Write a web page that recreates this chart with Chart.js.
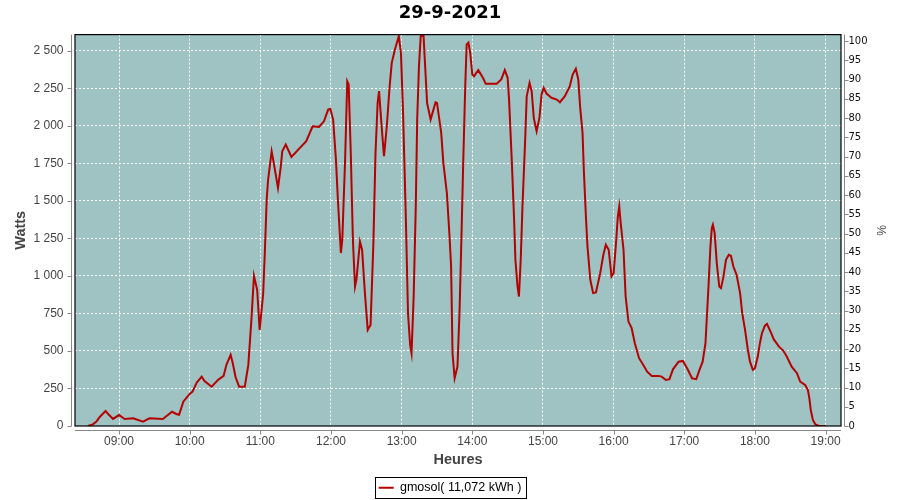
<!DOCTYPE html>
<html>
<head>
    <meta charset="utf-8">
    <title>29-9-2021</title>
    <script src="https://cdn.jsdelivr.net/npm/chart.js"></script>
    <style>
        body {
            margin: 0;
            background: #fff;
        }

        canvas {
            display: block;
        }
    </style>
</head>
<body>
    <canvas id="prodChart" width="900" height="500"></canvas>

    <script>
        const chartTitle = '29-9-2021';
        const seriesLabel = 'gmosol( 11,072 kWh )';

        // hour ticks on the x axis
        const hourTicks = [9, 10, 11, 12, 13, 14, 15, 16, 17, 18, 19];

        // time of day (decimal hours) and power (W)
        const hours = [
            8.56, 8.63, 8.68, 8.73, 8.81, 8.86, 8.915, 9.0, 9.08, 9.2, 9.27, 9.34, 9.43, 9.62,
            9.75, 9.81, 9.85, 9.91, 10.0, 10.04, 10.1, 10.17, 10.21, 10.31, 10.4, 10.48, 10.52,
            10.58, 10.61, 10.65, 10.7, 10.78, 10.83, 10.875, 10.91, 10.955, 10.99, 11.04, 11.065,
            11.09, 11.11, 11.16, 11.19, 11.25, 11.29, 11.31, 11.36, 11.44, 11.56, 11.65, 11.74,
            11.83, 11.9, 11.96, 11.99, 12.03, 12.07, 12.1, 12.14, 12.16, 12.2, 12.23, 12.25, 12.28,
            12.31, 12.34, 12.36, 12.41, 12.44, 12.48, 12.52, 12.56, 12.6, 12.63, 12.66, 12.68,
            12.72, 12.75, 12.79, 12.83, 12.86, 12.905, 12.96, 12.99, 13.02, 13.06, 13.09, 13.12,
            13.14, 13.17, 13.2, 13.22, 13.245, 13.27, 13.31, 13.33, 13.36, 13.41, 13.45, 13.48,
            13.5, 13.56, 13.59, 13.64, 13.675, 13.7, 13.72, 13.75, 13.79, 13.82, 13.85, 13.87,
            13.9, 13.92, 13.945, 13.97, 14.0, 14.025, 14.085, 14.15, 14.19, 14.345, 14.41, 14.46,
            14.5, 14.52, 14.56, 14.59, 14.61, 14.64, 14.66, 14.685, 14.71, 14.75, 14.77, 14.81,
            14.84, 14.87, 14.91, 14.95, 14.98, 15.01, 15.05, 15.12, 15.195, 15.24, 15.31, 15.38,
            15.42, 15.465, 15.5, 15.525, 15.56, 15.58, 15.61, 15.63, 15.67, 15.71, 15.75, 15.81,
            15.855, 15.89, 15.93, 15.97, 16.0, 16.03, 16.06, 16.08, 16.1, 16.14, 16.17, 16.21,
            16.255, 16.3, 16.36, 16.42, 16.475, 16.54, 16.63, 16.68, 16.74, 16.79, 16.84, 16.92,
            16.98, 17.04, 17.11, 17.17, 17.215, 17.26, 17.3, 17.32, 17.345, 17.37, 17.39, 17.405,
            17.43, 17.46, 17.495, 17.52, 17.555, 17.59, 17.63, 17.66, 17.695, 17.74, 17.79, 17.82,
            17.86, 17.9, 17.93, 17.97, 18.0, 18.04, 18.07, 18.1, 18.14, 18.17, 18.22, 18.265,
            18.34, 18.4, 18.45, 18.52, 18.595, 18.64, 18.71, 18.75, 18.77, 18.79, 18.82, 18.855,
            18.9, 19.0
        ];
        const watts = [
            0, 11, 29, 62, 100, 73, 47, 73, 47, 51, 40, 29, 51, 47,
            95, 80, 75, 162, 214, 229, 289, 329, 300, 262, 307, 334, 407,
            474, 418, 325, 262, 262, 407, 719, 1001, 908, 641, 880, 1175,
            1509, 1642, 1831, 1754, 1587, 1731, 1831, 1876, 1794, 1854, 1898, 1998,
            1994, 2031, 2109, 2114, 2043, 1776, 1487, 1153, 1242, 1776, 2298, 2276, 1820,
            1242, 930, 975, 1230, 1175, 886, 641, 674, 1220, 1820, 2154, 2232,
            1976, 1798, 1998, 2265, 2421, 2510, 2599, 2488, 2087, 1375, 752, 541,
            485, 863, 1464, 2043, 2399, 2599, 2599, 2421, 2154, 2043, 2109, 2158,
            2154, 1954, 1754, 1553, 1286, 1063, 485, 318, 396, 774, 1330, 1731,
            2265, 2543, 2555, 2488, 2343, 2332, 2372, 2321, 2281, 2281, 2310, 2372,
            2321, 2176, 1754, 1397, 1108, 930, 863, 1108, 1464, 1931, 2198, 2287,
            2232, 2054, 1965, 2054, 2210, 2254, 2216, 2188, 2176, 2158, 2198, 2265,
            2343, 2381, 2310, 2132, 1954, 1687, 1375, 1197, 975, 886, 890, 1019,
            1141, 1208, 1175, 997, 1019, 1197, 1397, 1464, 1353, 1175, 863, 696,
            652, 552, 452, 407, 362, 334, 334, 329, 307, 312, 378, 429,
            434, 385, 318, 312, 374, 429, 552, 730, 952, 1197, 1320, 1342,
            1286, 1086, 930, 919, 997, 1108, 1141, 1135, 1063, 1008, 886, 752,
            641, 507, 429, 374, 385, 463, 552, 619, 668, 681, 630, 579,
            529, 503, 463, 396, 352, 296, 274, 240, 185, 107, 40, 11,
            2, 0
        ];

        // axis extents
        const hourRange = [8.377, 19.218];
        const wattRange = [0, 2609];
        const percentRange = [0, 101.7];

        const lineColor = '#b40000';
        const plotBg = '#9ec3c2';
        const axisGray = '#888888';

        function formatWatts(v) {
            if (v >= 1000) {
                return Math.floor(v / 1000) + ' ' + String(v % 1000).padStart(3, '0');
            }
            return String(v);
        }

        function formatHour(h) {
            return String(h).padStart(2, '0') + ':00';
        }

        // fond du graphe, cadre noir, axes décalés et cadre de légende
        const framePlugin = {
            id: 'framePlugin',
            afterLayout(chart) {
                chart.legend.top += 4;
                chart.legend.bottom += 4;
            },
            beforeDraw(chart) {
                const { ctx, chartArea: a } = chart;
                ctx.save();
                ctx.fillStyle = plotBg;
                ctx.fillRect(a.left, a.top, a.width, a.height);
                ctx.restore();
            },
            afterDraw(chart) {
                const { ctx, chartArea: a, scales } = chart;
                ctx.save();

                ctx.strokeStyle = '#000';
                ctx.lineWidth = 1.2;
                ctx.strokeRect(a.left, a.top, a.width, a.height);

                ctx.strokeStyle = axisGray;
                ctx.lineWidth = 1;
                ctx.beginPath();
                // left axis
                const lx = Math.round(a.left - 4) + 0.5;
                ctx.moveTo(lx, a.top);
                ctx.lineTo(lx, a.bottom);
                scales.y.ticks.forEach(t => {
                    const py = Math.round(scales.y.getPixelForValue(t.value)) + 0.5;
                    ctx.moveTo(lx - 4, py);
                    ctx.lineTo(lx, py);
                });
                // right axis
                const rx = Math.round(a.right + 3) + 0.5;
                ctx.moveTo(rx, a.top);
                ctx.lineTo(rx, a.bottom);
                scales.pct.ticks.forEach(t => {
                    const py = Math.round(scales.pct.getPixelForValue(t.value)) + 0.5;
                    ctx.moveTo(rx, py);
                    ctx.lineTo(rx + 4, py);
                });
                // bottom axis
                const by = Math.round(a.bottom + 4) + 0.5;
                ctx.moveTo(a.left, by);
                ctx.lineTo(a.right, by);
                scales.x.ticks.forEach(t => {
                    const px = Math.round(scales.x.getPixelForValue(t.value)) + 0.5;
                    ctx.moveTo(px, by);
                    ctx.lineTo(px, by + 4);
                });
                ctx.stroke();

                const hb = chart.legend.legendHitBoxes[0];
                if (hb) {
                    ctx.strokeStyle = '#000';
                    ctx.lineWidth = 1;
                    ctx.strokeRect(Math.round(hb.left - 4) + 0.5, Math.round(hb.top - 5) + 0.5,
                        Math.round(hb.width + 8), Math.round(hb.height + 8));
                }
                ctx.restore();
            }
        };

        const ctx = document.getElementById('prodChart').getContext('2d');

        new Chart(ctx, {
            type: 'line',
            data: {
                datasets: [{
                    label: seriesLabel,
                    data: hours.map((h, i) => ({ x: h, y: watts[i] })),
                    borderColor: lineColor,
                    backgroundColor: lineColor,
                    borderWidth: 2,
                    pointRadius: 0,
                    tension: 0,
                    fill: false,
                    xAxisID: 'x',
                    yAxisID: 'y'
                }]
            },
            options: {
                responsive: false,
                animation: false,
                devicePixelRatio: 1,
                layout: { padding: 0 },
                plugins: {
                    title: {
                        display: true,
                        text: chartTitle,
                        color: '#000',
                        font: { family: 'DejaVu Sans', size: 18, weight: 'bold' },
                        padding: { top: 3, bottom: 10 }
                    },
                    legend: {
                        position: 'bottom',
                        onClick: null,
                        labels: {
                            boxWidth: 15,
                            boxHeight: 2,
                            padding: 4,
                            color: '#444',
                            font: { family: 'Liberation Sans', size: 12.5 },
                            generateLabels: () => [{
                                text: seriesLabel,
                                fillStyle: lineColor,
                                strokeStyle: lineColor,
                                lineWidth: 0,
                                hidden: false,
                                datasetIndex: 0
                            }]
                        }
                    },
                    tooltip: { enabled: false }
                },
                scales: {
                    x: {
                        type: 'linear',
                        position: 'bottom',
                        min: hourRange[0],
                        max: hourRange[1],
                        afterBuildTicks: s => {
                            s.ticks = hourTicks.map(v => ({ value: v }));
                        },
                        afterFit: s => {
                            const lh = s.chart.legend ? s.chart.legend.height : 26.5;
                            s.height = 500 - 426 - lh;
                        },
                        ticks: {
                            callback: v => formatHour(v),
                            color: '#444',
                            font: { family: 'Liberation Sans', size: 12 },
                            padding: 8,
                            maxRotation: 0,
                            autoSkip: false
                        },
                        grid: { color: '#ffffff', lineWidth: 1, drawTicks: false },
                        border: { display: false, dash: [2, 2] },
                        title: {
                            display: true,
                            text: 'Heures',
                            color: '#444',
                            font: { family: 'Liberation Sans', size: 14.5, weight: 'bold' },
                            padding: { top: 0, bottom: 4.8 }
                        }
                    },
                    y: {
                        type: 'linear',
                        position: 'left',
                        min: wattRange[0],
                        max: wattRange[1],
                        afterFit: s => { s.width = 75; },
                        ticks: {
                            stepSize: 250,
                            includeBounds: false,
                            autoSkip: false,
                            callback: v => formatWatts(v),
                            color: '#444',
                            font: { family: 'Liberation Sans', size: 12 },
                            padding: 11.5
                        },
                        grid: { color: '#ffffff', lineWidth: 1, drawTicks: false },
                        border: { display: false, dash: [2, 2] },
                        title: {
                            display: true,
                            text: 'Watts',
                            color: '#444',
                            font: { family: 'Liberation Sans', size: 14.5, weight: 'bold' },
                            padding: { top: 12.3, bottom: 0 }
                        }
                    },
                    pct: {
                        type: 'linear',
                        position: 'right',
                        min: percentRange[0],
                        max: percentRange[1],
                        afterFit: s => { s.width = 59; },
                        ticks: {
                            stepSize: 5,
                            includeBounds: false,
                            autoSkip: false,
                            color: '#111',
                            font: { family: 'DejaVu Sans', size: 10 },
                            padding: 7.5
                        },
                        grid: { drawOnChartArea: false, drawTicks: false },
                        border: { display: false },
                        title: {
                            display: true,
                            text: '%',
                            color: '#444',
                            font: { family: 'Liberation Sans', size: 12 },
                            padding: { top: 12.8, bottom: 0 }
                        }
                    }
                }
            },
            plugins: [framePlugin]
        });
    </script>
</body>
</html>
